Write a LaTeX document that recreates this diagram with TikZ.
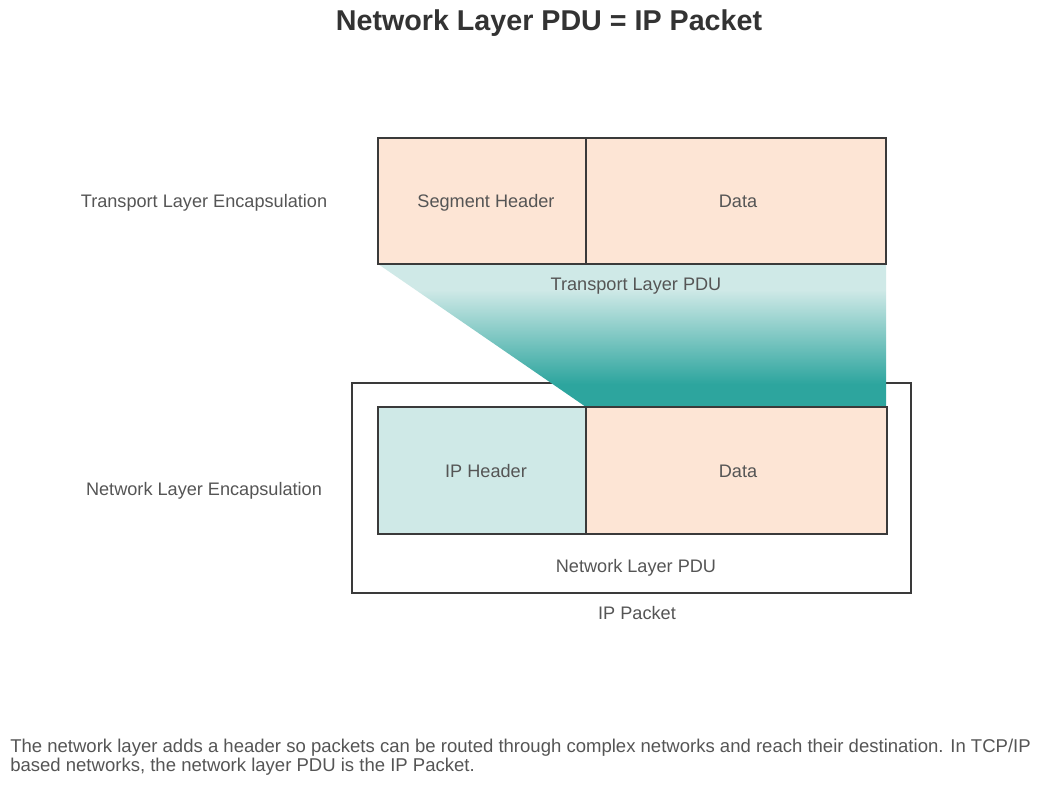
\documentclass[tikz,border=0pt]{standalone}
\usepackage{fontspec}
\setmainfont{Liberation Sans}
\usetikzlibrary{fit}
\definecolor{peach}{HTML}{FDE5D5}
\definecolor{lteal}{HTML}{CFE9E7}
\definecolor{dteal}{HTML}{2DA59E}
\definecolor{bord}{HTML}{3A3A3A}
\definecolor{txt}{HTML}{555555}
\definecolor{ttl}{HTML}{333333}
\pgfdeclareverticalshading{pdushade}{100bp}{color(0bp)=(dteal); color(33bp)=(dteal); color(66bp)=(lteal); color(100bp)=(lteal)}
\tikzset{
  boxline/.style={draw=bord, line width=1.9pt},
  pbox/.style={boxline, fill=peach, inner sep=0pt},
  tbox/.style={boxline, fill=lteal, inner sep=0pt},
  lbl/.style={text=txt, font=\fontsize{13.6}{16}\selectfont, inner sep=0pt, anchor=base},
  captxt/.style={text=txt, font=\fontsize{13.9}{16}\selectfont, inner sep=0pt, anchor=base west},
}
\begin{document}
\begin{tikzpicture}[x=0.75pt, y=-0.75pt]
\useasboundingbox[fill=white] (0,0) rectangle (1050,792);
% title
\node[text=ttl, font=\fontsize{21.5}{25}\selectfont\bfseries, inner sep=0pt, anchor=base] (title) at (549,31) {Network Layer PDU = IP Packet};
% outer IP packet box
\node[boxline, fill=white, inner sep=0pt, fit={(352,383)(911,593)}] (outer) {};
% transport PDU gradient band
\coordinate (g1) at (378,264);
\coordinate (g2) at (886,264);
\coordinate (g3) at (886,407);
\coordinate (g4) at (586,407);
\shade[shading=pdushade] (g1) -- (g2) -- (g3) -- (g4) -- cycle;
% top segment
\node[pbox, fit={(378,138)(586,264)}] (seghdr) {};
\node[pbox, fit={(586,138)(886,264)}] (segdata) {};
% network layer packet
\node[tbox, fit={(378,407)(586,534)}] (iphdr) {};
\node[pbox, fit={(586,407)(887,534)}] (ipdata) {};
% texts in boxes
\node[lbl] (t-seghdr) at (486,207) {Segment Header};
\node[lbl] (t-segdata) at (738,207) {Data};
\node[lbl] (t-iphdr) at (486,477) {IP Header};
\node[lbl] (t-ipdata) at (738,477) {Data};
% labels
\node[lbl] (tle) at (204,207) {Transport Layer Encapsulation};
\node[lbl] (nle) at (204,495) {Network Layer Encapsulation};
\node[lbl] (tpdu) at (636,290) {Transport Layer PDU};
\node[lbl] (npdu) at (636,572) {Network Layer PDU};
\node[lbl] (ippk) at (637,619) {IP Packet};
% caption
\node[captxt] (cap1) at (10,752) {The network layer adds a header so packets can be routed through complex networks and reach their destination. In TCP/IP};
\node[captxt] (cap2) at (10,771) {based networks, the network layer PDU is the IP Packet.};
\end{tikzpicture}
\end{document}
